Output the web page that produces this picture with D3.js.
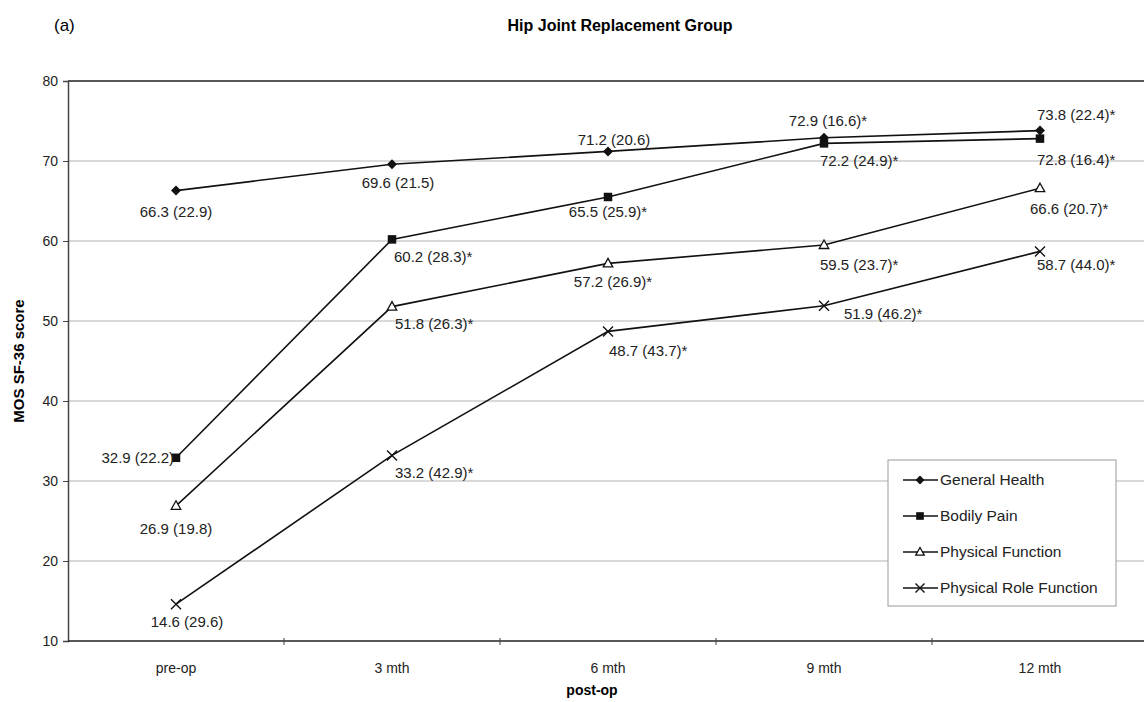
<!DOCTYPE html>
<html>
<head>
<meta charset="utf-8">
<script src="https://cdn.jsdelivr.net/npm/d3@7"></script>
<style>
  body { margin: 0; background: #fff; }
  svg { display: block; font-family: "Liberation Sans", Arial, sans-serif; }
</style>
</head>
<body>
<script>
// ---- data ----
var categories = ["pre-op", "3 mth", "6 mth", "9 mth", "12 mth"];
var seriesNames = ["General Health", "Bodily Pain", "Physical Function", "Physical Role Function"];

var generalHealth = [66.3, 69.6, 71.2, 72.9, 73.8];
var generalHealthSD = [22.9, 21.5, 20.6, 16.6, 22.4];
var generalHealthSig = [0, 0, 0, 1, 1];

var bodilyPain = [32.9, 60.2, 65.5, 72.2, 72.8];
var bodilyPainSD = [22.2, 28.3, 25.9, 24.9, 16.4];
var bodilyPainSig = [0, 1, 1, 1, 1];

var physicalFunction = [26.9, 51.8, 57.2, 59.5, 66.6];
var physicalFunctionSD = [19.8, 26.3, 26.9, 23.7, 20.7];
var physicalFunctionSig = [0, 1, 1, 1, 1];

var physicalRole = [14.6, 33.2, 48.7, 51.9, 58.7];
var physicalRoleSD = [29.6, 42.9, 43.7, 46.2, 44.0];
var physicalRoleSig = [0, 1, 1, 1, 1];

var yTicks = [10, 20, 30, 40, 50, 60, 70, 80];

// label placement per point: [anchor, dx, dy]
var labelPos = [
    [["middle", 0, 21], ["middle", 6, 19], ["middle", 6, -12], ["middle", 4, -17], ["start", -3, -16]],
    [["end", -2, 0], ["start", 2, 17], ["middle", 0, 15], ["start", -4, 17], ["start", -3, 21]],
    [["middle", 0, 23], ["start", 3, 17], ["middle", 5, 18], ["start", -4, 20], ["start", -10, 21]],
    [["middle", 11, 18], ["start", 3, 17], ["start", 1, 19], ["start", 20, 8], ["start", -3, 13]]
];
var markerTypes = ["diamond", "square", "triangle", "cross"];

var series = [
    { name: seriesNames[0], values: generalHealth, sd: generalHealthSD, sig: generalHealthSig },
    { name: seriesNames[1], values: bodilyPain, sd: bodilyPainSD, sig: bodilyPainSig },
    { name: seriesNames[2], values: physicalFunction, sd: physicalFunctionSD, sig: physicalFunctionSig },
    { name: seriesNames[3], values: physicalRole, sd: physicalRoleSD, sig: physicalRoleSig }
];

var width = 1144, height = 702;
var plot = { left: 68, right: 1148, top: 81, bottom: 641 };
var labelFont = "15px";

var svg = d3.select("body").append("svg")
    .attr("width", width)
    .attr("height", height);

var x = d3.scaleBand().domain(categories).range([plot.left, plot.right]);
var y = d3.scaleLinear().domain([10, 80]).range([plot.bottom, plot.top]);

// titles
svg.append("text").attr("x", 54).attr("y", 31)
    .style("font-size", "17px").text("(a)");
svg.append("text").attr("x", 620).attr("y", 31)
    .attr("text-anchor", "middle")
    .style("font-size", "16px").style("font-weight", "bold")
    .text("Hip Joint Replacement Group");

// gridlines
svg.append("g").selectAll("line")
    .data(yTicks.filter(function (d) { return d > 10 && d < 80; }))
    .enter().append("line")
    .attr("x1", plot.left).attr("x2", width)
    .attr("y1", function (d) { return y(d); })
    .attr("y2", function (d) { return y(d); })
    .attr("stroke", "#b4b4b4").attr("stroke-width", 1.2);

// top border
svg.append("line")
    .attr("x1", plot.left).attr("x2", width)
    .attr("y1", y(80)).attr("y2", y(80))
    .attr("stroke", "#222").attr("stroke-width", 1.5);

// y axis
var yAxis = svg.append("g")
    .attr("transform", "translate(" + plot.left + ",0)")
    .call(d3.axisLeft(y).tickValues(yTicks).tickSize(5).tickPadding(5));
yAxis.select(".domain").attr("stroke", "#444").attr("stroke-width", 1.5);
yAxis.selectAll(".tick line").attr("stroke", "#444");
yAxis.selectAll("text").style("font-size", "14px").attr("fill", "#222")
    .style("font-family", "Liberation Sans, Arial, sans-serif");

// x axis: ticks on band edges
var xAxis = svg.append("g")
    .attr("transform", "translate(0," + plot.bottom + ")");
xAxis.append("line")
    .attr("x1", plot.left).attr("x2", width)
    .attr("stroke", "#222").attr("stroke-width", 1.5);
xAxis.selectAll("line.tk")
    .data(categories.slice(1))
    .enter().append("line").attr("class", "tk")
    .attr("x1", function (d) { return x(d); })
    .attr("x2", function (d) { return x(d); })
    .attr("y1", -3).attr("y2", 4)
    .attr("stroke", "#444");
xAxis.selectAll("text")
    .data(categories)
    .enter().append("text")
    .attr("x", function (d) { return x(d) + x.bandwidth() / 2; })
    .attr("y", 32)
    .attr("text-anchor", "middle")
    .style("font-size", "14px").attr("fill", "#222")
    .text(function (d) { return d; });

svg.append("text")
    .attr("x", 592).attr("y", 695)
    .attr("text-anchor", "middle")
    .style("font-size", "14px").style("font-weight", "bold")
    .text("post-op");

svg.append("text")
    .attr("transform", "translate(24," + (y(45)) + ") rotate(-90)")
    .attr("text-anchor", "middle")
    .style("font-size", "15px").style("font-weight", "bold")
    .text("MOS SF-36 score");

// marker drawing
function drawMarker(g, type, size) {
    var s = size;
    if (type === "diamond") {
        g.append("path").attr("d", "M0," + (-s) + "L" + s + ",0L0," + s + "L" + (-s) + ",0Z")
            .attr("fill", "#111");
    } else if (type === "square") {
        g.append("rect").attr("x", -s * 0.85).attr("y", -s * 0.85)
            .attr("width", s * 1.7).attr("height", s * 1.7)
            .attr("fill", "#111");
    } else if (type === "triangle") {
        g.append("path").attr("d", "M0," + (-s) + "L" + (s * 0.95) + "," + (s * 0.7) + "L" + (-s * 0.95) + "," + (s * 0.7) + "Z")
            .attr("fill", "#fff").attr("stroke", "#111").attr("stroke-width", 1.3);
    } else {
        g.append("path").attr("d", "M" + (-s) + "," + (-s) + "L" + s + "," + s + "M" + (-s) + "," + s + "L" + s + "," + (-s))
            .attr("stroke", "#111").attr("stroke-width", 1.4);
    }
}

var line = d3.line()
    .x(function (d, i) { return x(categories[i]) + x.bandwidth() / 2; })
    .y(function (d) { return y(d); });

series.forEach(function (s, si) {
    svg.append("path")
        .attr("d", line(s.values))
        .attr("fill", "none")
        .attr("stroke", "#111")
        .attr("stroke-width", 1.6);

    s.values.forEach(function (v, i) {
        var px = x(categories[i]) + x.bandwidth() / 2, py = y(v);
        var g = svg.append("g").attr("transform", "translate(" + px + "," + py + ")");
        drawMarker(g, markerTypes[si], 5);

        var lp = labelPos[si][i];
        svg.append("text")
            .attr("x", px + lp[1])
            .attr("y", py + lp[2])
            .attr("dy", "0.35em")
            .attr("text-anchor", lp[0])
            .style("font-size", labelFont).attr("fill", "#222")
            .text(v.toFixed(1) + " (" + s.sd[i].toFixed(1) + ")" + (s.sig[i] ? "*" : ""));
    });
});

// legend
var legend = svg.append("g").attr("transform", "translate(888,460)");
legend.append("rect")
    .attr("width", 228).attr("height", 146)
    .attr("fill", "#fff").attr("stroke", "#999").attr("stroke-width", 1);

seriesNames.forEach(function (name, i) {
    var row = legend.append("g").attr("transform", "translate(0," + (20 + i * 36) + ")");
    row.append("line").attr("x1", 15).attr("x2", 50)
        .attr("stroke", "#111").attr("stroke-width", 1.6);
    var m = row.append("g").attr("transform", "translate(32,0)");
    drawMarker(m, markerTypes[i], 4.5);
    row.append("text").attr("x", 52).attr("dy", "0.35em")
        .style("font-size", "15.5px").attr("fill", "#222")
        .text(name);
});
</script>
</body>
</html>
